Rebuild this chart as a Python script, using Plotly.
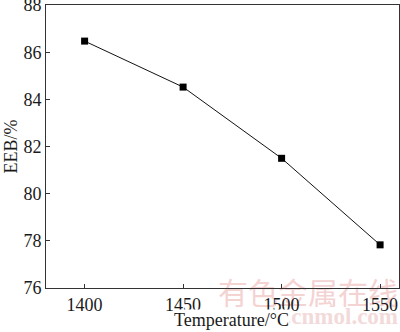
import plotly.graph_objects as go

temperature = [1400, 1450, 1500, 1550]
eeb = [86.47, 84.52, 81.50, 77.83]
x_ticks = [1400, 1450, 1500, 1550]
y_ticks = [76, 78, 80, 82, 84, 86, 88]

font_family = "Liberation Serif, Times New Roman, serif"
axis_color = "#333333"
text_color = "#1a1a1a"
W, H = 400, 332

fig = go.Figure()

# faint watermark in a full-page background subplot (drawn beneath the chart)
fig.add_trace(go.Scatter(
    x=[398], y=[H - 296], mode="text", text=["有色金属在线"],
    textposition="middle left", xaxis="x", yaxis="y",
    textfont=dict(family="Noto Sans CJK SC", size=30, color="#f4d3d3"),
    cliponaxis=False, showlegend=False, hoverinfo="skip",
))
fig.add_trace(go.Scatter(
    x=[398], y=[H - 318], mode="text", text=["<b>www.cnmol.com</b>"],
    textposition="middle left", xaxis="x", yaxis="y",
    textfont=dict(family=font_family, size=23, color="#f3dada"),
    cliponaxis=False, showlegend=False, hoverinfo="skip",
))

# data
fig.add_trace(go.Scatter(
    x=temperature, y=eeb, mode="lines+markers", xaxis="x2", yaxis="y2",
    line=dict(color="#111111", width=1),
    marker=dict(symbol="square", size=7, color="#000000"),
    showlegend=False, cliponaxis=False,
))

hidden = dict(visible=False, showgrid=False, zeroline=False, fixedrange=True)

fig.update_layout(
    width=W, height=H,
    margin=dict(l=0, r=0, t=0, b=0),
    paper_bgcolor="white", plot_bgcolor="rgba(0,0,0,0)",
    font=dict(family=font_family, size=18, color=text_color),
    xaxis=dict(domain=[0, 1], range=[0, W], **hidden),
    yaxis=dict(domain=[0, 1], range=[0, H], **hidden),
    xaxis2=dict(
        domain=[46 / W, 399 / W], anchor="y2",
        range=[1380.4, 1559.6], tickvals=x_ticks, ticks="inside", ticklen=4,
        tickcolor=axis_color, showline=True, linecolor=axis_color, linewidth=1,
        mirror=True, showgrid=False, zeroline=False, automargin=False,
        ticklabeloverflow="allow",
        tickfont=dict(family=font_family, size=18, color=text_color),
    ),
    yaxis2=dict(
        domain=[(H - 288) / H, (H - 5) / H], anchor="x2",
        range=[76, 88.001], tickvals=y_ticks, ticks="inside", ticklen=4,
        tickcolor=axis_color, showline=True, linecolor=axis_color, linewidth=1,
        mirror=True, showgrid=False, zeroline=False, automargin=False,
        ticklabeloverflow="allow",
        tickfont=dict(family=font_family, size=18, color=text_color),
    ),
)

# axis titles
fig.add_annotation(text="Temperature/°C", xref="paper", yref="paper",
                   x=231 / W, y=(H - 320) / H, xanchor="center", yanchor="middle",
                   showarrow=False, bgcolor="white", borderpad=0,
                   font=dict(family=font_family, size=18, color=text_color))
fig.add_annotation(text="EEB/%", xref="paper", yref="paper",
                   x=10 / W, y=(H - 146.5) / H, xanchor="center", yanchor="middle",
                   textangle=-90, showarrow=False,
                   font=dict(family=font_family, size=18, color=text_color))

fig.write_html(
    "out.html",
    config={"displayModeBar": False},
    post_script="document.body.style.margin='0';document.body.style.padding='0';"
                "document.body.style.overflow='hidden';",
)
